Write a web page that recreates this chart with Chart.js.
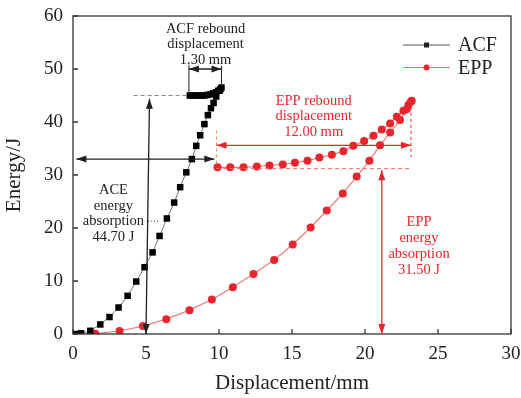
<!DOCTYPE html>
<html>
<head>
<meta charset="utf-8">
<script src="https://cdn.jsdelivr.net/npm/chart.js@4.4.1/dist/chart.umd.min.js"></script>
<style>
html, body { margin: 0; padding: 0; background: #fff; }
</style>
</head>
<body>
<canvas id="energyChart" width="521" height="398"></canvas>
<script>
const xTicks = [0, 5, 10, 15, 20, 25, 30];
const yTicks = [0, 10, 20, 30, 40, 50, 60];

// ACF: loading then unloading
const acfX = [0.2, 0.55, 1.18, 1.87, 2.5, 3.12, 3.74, 4.33, 4.9, 5.45, 5.93, 6.43, 6.93, 7.34, 7.76, 8.14, 8.44, 8.71, 9.0, 9.24, 9.45, 9.63, 9.81, 10.04, 10.17,
              10.1, 9.95, 9.8, 9.6, 9.4, 9.2, 9.0, 8.8, 8.6, 8.4, 8.2, 8.0];
const acfY = [0, 0.13, 0.6, 1.8, 3.2, 5.0, 7.2, 9.9, 12.6, 15.4, 18.5, 21.8, 24.8, 27.7, 30.5, 33.0, 35.5, 37.5, 39.6, 41.3, 42.6, 43.6, 44.8, 45.9, 46.5,
              46.2, 45.9, 45.6, 45.4, 45.2, 45.1, 45.0, 45.0, 45.0, 45.0, 45.0, 45.0];

// EPP: loading then unloading
const eppX = [1.53, 3.19, 4.79, 6.39, 7.98, 9.51, 10.95, 12.36, 13.78, 15.05, 16.28, 17.38, 18.48, 19.43, 20.3, 21.03, 21.72, 22.4, 22.86, 23.13, 23.2,
              22.97, 22.63, 22.18, 21.72, 21.15, 20.58, 19.94, 19.2, 18.52, 17.73, 16.88, 16.06, 15.2, 14.37, 13.46, 12.59, 11.68, 10.77, 9.9];
const eppY = [0.06, 0.57, 1.5, 2.8, 4.5, 6.5, 8.8, 11.3, 13.96, 16.9, 20.1, 23.3, 26.5, 29.7, 32.7, 35.6, 38.0, 40.4, 42.4, 43.8, 44.0,
              43.2, 42.1, 41.0, 39.7, 38.6, 37.4, 36.4, 35.5, 34.5, 33.8, 33.3, 32.7, 32.3, 32.0, 31.8, 31.6, 31.45, 31.45, 31.45];

const SERIF = "'Liberation Serif', 'Times New Roman', serif";
const RED = '#e8252c';
const INK = '#222';

// annotation lines in data units
const arrows = [
    { x1: 0.23, y1: 33.0, x2: 9.68, y2: 33.0, c: INK },
    { x1: 5.24, y1: 44.4, x2: 5.0, y2: 0, c: INK },
    { x1: 7.94, y1: 50.0, x2: 10.17, y2: 50.0, c: INK },
    { x1: 9.83, y1: 35.6, x2: 23.15, y2: 35.6, c: RED },
    { x1: 21.15, y1: 30.9, x2: 21.15, y2: 0, c: RED }
];
const guides = [
    { x1: 4.15, y1: 45.0, x2: 7.95, y2: 45.0, c: '#888', dash: [4, 3] },
    { x1: 9.83, y1: 38.4, x2: 9.83, y2: 31.9, c: '#f08a5a', dash: [3, 3] },
    { x1: 23.15, y1: 44.0, x2: 23.15, y2: 33.4, c: RED, dash: [3, 3] },
    { x1: 9.8, y1: 31.2, x2: 23.1, y2: 31.2, c: '#f06a6a', dash: [4, 3] },
    { x1: 7.94, y1: 50.8, x2: 7.94, y2: 45.3, c: INK, dash: [] },
    { x1: 10.17, y1: 50.6, x2: 10.17, y2: 46.7, c: INK, dash: [] },
    { x1: 5.15, y1: 21.3, x2: 5.95, y2: 21.3, c: INK, dash: [1, 2] }
];
const notes = [
    { x: 9.08, y: [57.5, 54.6, 51.7], t: ['ACF rebound', 'displacement', '1.30 mm'], c: INK },
    { x: 16.49, y: [44.0, 41.1, 38.1], t: ['EPP rebound', 'displacement', '12.00 mm'], c: RED },
    { x: 2.77, y: [27.2, 24.2, 21.2, 18.3], t: ['ACE', 'energy', 'absorption', '44.70 J'], c: INK },
    { x: 23.7, y: [21.1, 18.1, 15.1, 12.1], t: ['EPP', 'energy', 'absorption', '31.50 J'], c: RED }
];

function head(ctx, x, y, ang, color) {
    ctx.save();
    ctx.translate(x, y);
    ctx.rotate(ang);
    ctx.beginPath();
    ctx.moveTo(0, 0);
    ctx.lineTo(-10, -3.5);
    ctx.lineTo(-10, 3.5);
    ctx.closePath();
    ctx.fillStyle = color;
    ctx.fill();
    ctx.restore();
}

const decor = {
    id: 'decor',
    afterDraw(chart) {
        const ctx = chart.ctx;
        const xs = chart.scales.x, ys = chart.scales.y;
        const a = chart.chartArea;
        const px = v => xs.getPixelForValue(v), py = v => ys.getPixelForValue(v);

        ctx.save();
        // frame and inward ticks
        ctx.strokeStyle = '#333';
        ctx.lineWidth = 1.3;
        ctx.strokeRect(a.left, a.top, a.right - a.left, a.bottom - a.top);
        ctx.beginPath();
        xTicks.forEach(t => { ctx.moveTo(px(t), a.bottom); ctx.lineTo(px(t), a.bottom - 5); });
        yTicks.forEach(t => { ctx.moveTo(a.left, py(t)); ctx.lineTo(a.left + 5, py(t)); });
        ctx.stroke();

        guides.forEach(g => {
            ctx.beginPath();
            ctx.setLineDash(g.dash);
            ctx.strokeStyle = g.c;
            ctx.lineWidth = 1;
            ctx.moveTo(px(g.x1), py(g.y1));
            ctx.lineTo(px(g.x2), py(g.y2));
            ctx.stroke();
        });
        ctx.setLineDash([]);

        arrows.forEach(r => {
            const x1 = px(r.x1), y1 = py(r.y1), x2 = px(r.x2), y2 = py(r.y2);
            const ang = Math.atan2(y2 - y1, x2 - x1);
            ctx.beginPath();
            ctx.strokeStyle = r.c;
            ctx.lineWidth = 1.3;
            ctx.moveTo(x1, y1);
            ctx.lineTo(x2, y2);
            ctx.stroke();
            head(ctx, x2, y2, ang, r.c);
            head(ctx, x1, y1, ang + Math.PI, r.c);
        });

        ctx.font = '14.5px ' + SERIF;
        ctx.textAlign = 'center';
        ctx.textBaseline = 'middle';
        notes.forEach(n => {
            ctx.fillStyle = n.c;
            n.t.forEach((s, i) => ctx.fillText(s, px(n.x), py(n.y[i])));
        });

        // legend
        const leg = [
            { name: 'ACF', y: 45, line: '#555', fill: '#222', shape: 'rect' },
            { name: 'EPP', y: 67.5, line: '#f06a6a', fill: RED, shape: 'circle' }
        ];
        ctx.font = '20px ' + SERIF;
        ctx.textAlign = 'left';
        leg.forEach(l => {
            ctx.beginPath();
            ctx.strokeStyle = l.line;
            ctx.lineWidth = 1.2;
            ctx.moveTo(403, l.y);
            ctx.lineTo(450, l.y);
            ctx.stroke();
            ctx.fillStyle = l.fill;
            if (l.shape === 'rect') {
                ctx.fillRect(424, l.y - 2.5, 5, 5);
            } else {
                ctx.beginPath();
                ctx.arc(426.5, l.y, 3, 0, Math.PI * 2);
                ctx.fill();
            }
            ctx.fillStyle = INK;
            ctx.fillText(l.name, 458, l.y + 1);
        });
        ctx.restore();
    }
};

new Chart(document.getElementById('energyChart'), {
    type: 'scatter',
    data: {
        datasets: [
            {
                label: 'ACF',
                data: acfX.map((x, i) => ({ x: x, y: acfY[i] })),
                showLine: true,
                borderColor: '#777',
                borderWidth: 1,
                pointStyle: 'rect',
                pointRadius: 4.6,
                pointBackgroundColor: '#000',
                pointBorderWidth: 0
            },
            {
                label: 'EPP',
                data: eppX.map((x, i) => ({ x: x, y: eppY[i] })),
                showLine: true,
                borderColor: '#f47a7a',
                borderWidth: 1.2,
                pointStyle: 'circle',
                pointRadius: 4,
                pointBackgroundColor: RED,
                pointBorderWidth: 0
            }
        ]
    },
    options: {
        responsive: false,
        animation: false,
        layout: { padding: { top: 16, right: 10, left: 0, bottom: 0 } },
        plugins: { legend: { display: false }, tooltip: { enabled: false } },
        scales: {
            x: {
                type: 'linear', min: 0, max: 30,
                afterBuildTicks: s => { s.ticks = xTicks.map(v => ({ value: v })); },
                afterFit: s => { s.height = 64; s.paddingLeft = 0; s.paddingRight = 0; },
                grid: { display: false, drawTicks: false },
                border: { display: false },
                ticks: { color: INK, padding: 9, font: { family: SERIF, size: 19 } },
                title: { display: true, text: 'Displacement/mm', color: INK, font: { family: SERIF, size: 21 }, padding: { top: 4, bottom: 2 } }
            },
            y: {
                type: 'linear', min: 0, max: 60,
                afterBuildTicks: s => { s.ticks = yTicks.map(v => ({ value: v })); },
                afterFit: s => { s.width = 73; s.paddingTop = 0; s.paddingBottom = 0; },
                grid: { display: false, drawTicks: false },
                border: { display: false },
                ticks: { color: INK, padding: 10, font: { family: SERIF, size: 19 } },
                title: { display: true, text: 'Energy/J', color: INK, font: { family: SERIF, size: 21 }, padding: { top: 2, bottom: 0 } }
            }
        }
    },
    plugins: [decor]
});
</script>
</body>
</html>
